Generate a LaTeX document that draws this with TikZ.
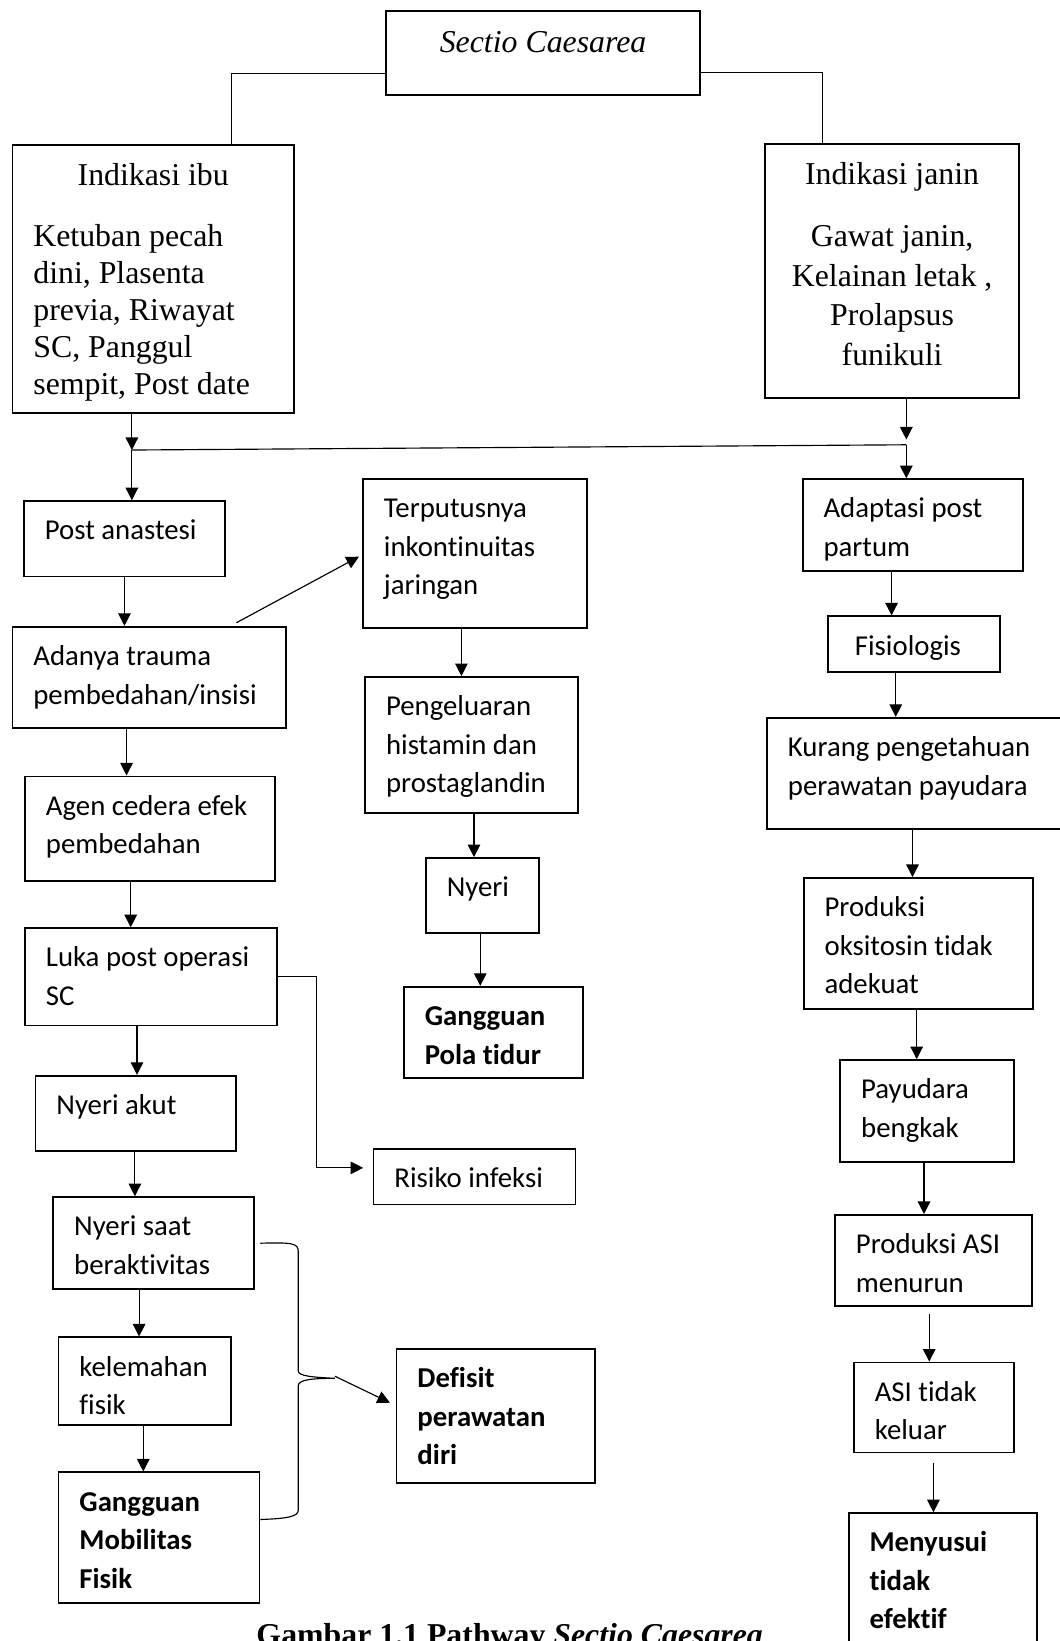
\documentclass[tikz,border=0pt]{standalone}
\usepackage{fontspec}
\setmainfont{Liberation Serif}
\newfontfamily\calibri[Ligatures={NoCommon,NoContextual}]{Carlito}
\usetikzlibrary{arrows.meta}

% isi kotak: lebar, tinggi, teks (rata kiri, mulai dari atas)
\newcommand{\isi}[3]{\parbox[c][#2pt][t]{#1pt}{\raggedright\leftskip=20pt\rule{0pt}{37pt}#3}}

\begin{document}
\begin{tikzpicture}[x=1pt, y=-1pt,
    box/.style={draw, line width=1.8pt, anchor=north west, inner sep=0pt,
                font=\calibri\fontsize{27.5}{36.8}\selectfont},
    tebal/.style={box, font=\calibri\bfseries\fontsize{27.5}{36.8}\selectfont},
    kotakTNR/.style={draw, line width=1.8pt, anchor=north west, inner sep=0pt,
                font=\fontsize{30.4}{35.3}\selectfont},
    panah/.style={-{Triangle[length=12pt,width=12pt]}, line width=1.1pt},
    garis/.style={line width=1.1pt}]
\useasboundingbox (0,0) rectangle (1012,1568);

% kotak atas
\node[kotakTNR] (sectio) at (368,10) {\parbox[c][80pt][t]{300pt}{\centering\rule{0pt}{39pt}\itshape Sectio Caesarea}};
\node[kotakTNR] (ibu) at (11,138) {\parbox[c][256pt][t]{269pt}{{\centering\rule{0pt}{38pt}Indikasi ibu\par}\vspace{23.7pt}\raggedright\leftskip=20pt Ketuban pecah\\dini, Plasenta\\previa, Riwayat\\SC, Panggul\\sempit, Post date}};
\node[kotakTNR] (janin) at (730,137) {\parbox[c][242pt][t]{243pt}{\centering\fontsize{30.4}{37.7}\selectfont\rule{0pt}{38pt}Indikasi janin\\[22.3pt]Gawat janin,\\Kelainan letak ,\\Prolapsus\\funikuli}};

% kolom kiri
\node[box] (postan) at (22,478) {\isi{192}{72}{Post anastesi}};
\node[box] (adanya) at (11,598) {\isi{261}{97}{Adanya trauma\\pembedahan/insisi}};
\node[box] (agen) at (23,741) {\isi{239}{100}{Agen cedera efek\\pembedahan}};
\node[box] (luka) at (23,886) {\isi{241}{93}{Luka post operasi\\SC}};
\node[box] (nyeriakut) at (33,1027) {\isi{192}{72}{Nyeri akut}};
\node[box] (nyerisaat) at (50,1143) {\isi{192}{88}{Nyeri saat\\beraktivitas}};
\node[box] (kelemahan) at (55,1277) {\isi{165}{84}{kelemahan\\fisik}};
\node[tebal] (gmf) at (55,1406) {\isi{192}{125}{Gangguan\\Mobilitas\\Fisik}};
\node[box] (risiko) at (356,1097) {\isi{193}{53}{Risiko infeksi}};
\node[tebal] (defisit) at (378,1288) {\isi{190}{128}{Defisit\\perawatan\\diri}};

% kolom tengah
\node[box] (terputus) at (346,457) {\isi{214}{142}{Terputusnya\\inkontinuitas\\jaringan}};
\node[box] (pengeluaran) at (348,646) {\isi{203}{130}{Pengeluaran\\histamin dan\\prostaglandin}};
\node[box] (nyeri) at (406,819) {\isi{108}{72}{Nyeri}};
\node[tebal] (gpt) at (385,942) {\isi{171}{87}{Gangguan\\Pola tidur}};

% kolom kanan
\node[box] (adaptasi) at (766,457) {\isi{211}{88}{Adaptasi post\\partum}};
\node[box] (fisiologis) at (790,588) {\isi{165}{53}{\hspace*{6pt}Fisiologis}};
\node[box] (kurang) at (732,685) {\isi{300}{106}{Kurang pengetahuan\\perawatan payudara}};
\node[box] (produksi) at (767,838) {\isi{219}{125}{Produksi\\oksitosin tidak\\adekuat}};
\node[box] (payudara) at (802,1012) {\isi{166}{97}{Payudara\\bengkak}};
\node[box] (asi) at (797,1160) {\isi{188}{87}{Produksi ASI\\menurun}};
\node[box] (asitidak) at (815,1301) {\isi{153}{86}{ASI tidak\\keluar}};
\node[tebal] (menyusui) at (810,1445) {\isi{180}{160}{Menyusui\\tidak\\efektif}};

\node[font=\bfseries\fontsize{30.4}{36}\selectfont, anchor=base] (judul) at (487,1572) {Gambar 1.1 Pathway \textit{Sectio Caesarea}};

% garis dari Sectio Caesarea
\draw[garis] ([yshift=-19pt]sectio.west) -| ([xshift=74.5pt]ibu.north);
\draw[garis] ([yshift=-18pt]sectio.east) -| ([xshift=-66.5pt]janin.north);

% pertemuan kiri-kanan
\coordinate (kiri) at (126,430);
\coordinate (kanan) at (866,425);
\draw[panah] (ibu.south -| kiri) -- (kiri);
\draw[panah] (janin.south -| kanan) -- ([yshift=5pt]kanan);
\draw[garis] (kiri) -- (kanan);
\draw[panah] (kiri) -- (kiri |- postan.north);
\draw[panah] (kanan) -- (kanan |- adaptasi.north);

% panah kolom kiri
\draw[panah] (postan.south) -- (postan.south |- adanya.north);
\draw[panah] ([xshift=-21.5pt]adanya.south) -- ([xshift=-22.5pt]agen.north);
\draw[panah] ([xshift=-18.5pt]agen.south) -- ([xshift=-19.5pt]luka.north);
\draw[panah] ([xshift=-13.5pt]luka.south) -- ([xshift=1pt]nyeriakut.north);
\draw[panah] ([xshift=-1pt]nyeriakut.south) -- ([xshift=-18pt]nyerisaat.north);
\draw[panah] ([xshift=-14pt]nyerisaat.south) -- ([xshift=-5.5pt]kelemahan.north);
\draw[panah] ([xshift=-1.5pt]kelemahan.south) -- ([xshift=-15pt]gmf.north);
\draw[panah] ([xshift=83.5pt,yshift=3pt]adanya.north) -- ([xshift=-3pt,yshift=-3pt]terputus.west);
\draw[panah, shorten >=9pt] (luka.east) -- ++(37,0) |- ([yshift=8.5pt]risiko.west);

% kurung kurawal ke defisit
\coordinate (ujung) at (320,1317);
\draw[garis] ([xshift=5pt]nyerisaat.east) .. controls (280,1187) and (285,1188) .. (285,1196)
    -- (285,1310) .. controls (285,1315) and (300,1316) .. (ujung)
    .. controls (300,1317) and (285,1318) .. (285,1324)
    -- (285,1443) .. controls (285,1449) and (275,1451) .. ([yshift=17.5pt]gmf.east);
\draw[panah, shorten >=6pt] ([yshift=2pt]ujung) -- ([yshift=10pt]defisit.west);

% panah kolom tengah
\draw[panah] ([xshift=-13pt]terputus.south) -- ([xshift=-9.5pt]pengeluaran.north);
\draw[panah] ([xshift=2.5pt]pengeluaran.south) -- ([xshift=-8pt]nyeri.north);
\draw[panah] ([xshift=-2pt]nyeri.south) -- ([xshift=-12.5pt]gpt.north);

% panah kolom kanan
\draw[panah] ([xshift=-20.5pt]adaptasi.south) -- ([xshift=-21.5pt]fisiologis.north);
\draw[panah] ([xshift=-17.5pt]fisiologis.south) -- ([xshift=-27pt]kurang.north);
\draw[panah] ([xshift=-11pt]kurang.south) -- ([xshift=-5.5pt]produksi.north);
\draw[panah] ([xshift=-1.5pt]produksi.south) -- ([xshift=-10pt]payudara.north);
\draw[panah] ([xshift=-3pt]payudara.south) -- ([xshift=-9pt]asi.north);
\draw[panah, shorten <=7pt] ([xshift=-4pt]asi.south) -- ([xshift=-4.5pt]asitidak.north);
\draw[panah, shorten <=9pt] ([xshift=-0.5pt]asitidak.south) -- ([xshift=-9pt]menyusui.north);
\end{tikzpicture}
\end{document}
